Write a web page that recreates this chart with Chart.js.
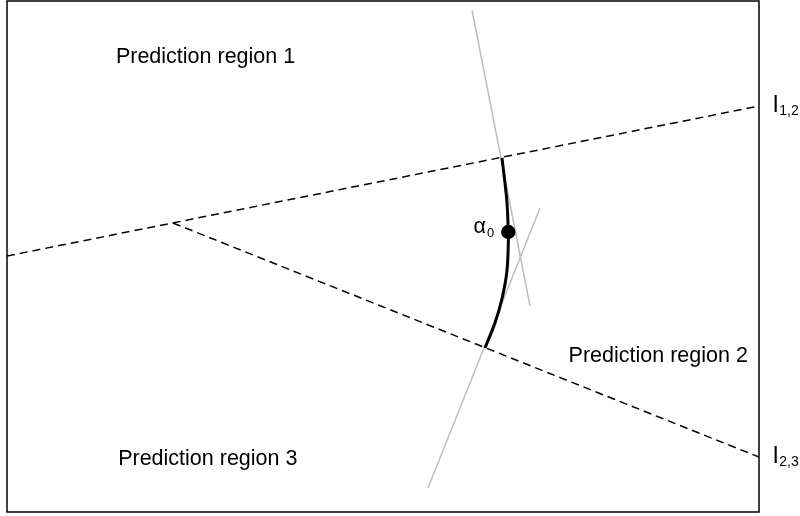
<!DOCTYPE html>
<html>
<head>
<meta charset="utf-8">
<script src="https://cdn.jsdelivr.net/npm/chart.js@4/dist/chart.umd.min.js"></script>
<style>
  html, body { margin: 0; padding: 0; background: #ffffff; }
  #wrap { width: 800px; height: 516px; }
</style>
</head>
<body>
<div id="wrap"><canvas id="c" width="800" height="516"></canvas></div>
<script>
// Boundary l_{1,2} (full line across the plot)
const boundary12X = [0, 100];
const boundary12Y = [50.10, 79.45];
// Boundary l_{2,3} (from the kink to the right edge)
const boundary23X = [22.07, 100];
const boundary23Y = [56.56, 10.76];
// Grey tangent lines
const tangentAX = [61.84, 69.55];
const tangentAY = [98.24, 40.31];
const tangentBX = [55.98, 70.88];
const tangentBY = [4.70, 59.49];
// Black curve (path)
const curveX = [65.82, 66.22, 66.49, 66.66, 66.66, 66.45, 65.78, 64.89, 63.56];
const curveY = [69.28, 64.38, 60.47, 54.79, 52.25, 46.77, 41.49, 36.99, 32.09];
// Point alpha_0
const alphaX = [66.66];
const alphaY = [54.79];
// Region labels
const regionLabels = ["Prediction region 1", "Prediction region 2", "Prediction region 3"];
const regionLabelX = [26.4, 86.6, 26.7];
const regionLabelY = [89.0, 30.5, 10.4];

const pts = (xs, ys) => xs.map((x, i) => ({ x: x, y: ys[i] }));

const FONT = "'Liberation Sans', Arial, Helvetica, sans-serif";

const overlay = {
  id: 'overlay',
  afterDatasetsDraw(chart) {
    const ctx = chart.ctx;
    const a = chart.chartArea;
    const sx = chart.scales.x, sy = chart.scales.y;
    ctx.save();
    // plot box
    ctx.strokeStyle = '#000000';
    ctx.lineWidth = 1.5;
    ctx.strokeRect(a.left, a.top, a.right - a.left, a.bottom - a.top);

    ctx.fillStyle = '#000000';
    ctx.textBaseline = 'middle';
    ctx.textAlign = 'center';
    ctx.font = '21.5px ' + FONT;
    regionLabels.forEach((t, i) => {
      ctx.fillText(t, sx.getPixelForValue(regionLabelX[i]), sy.getPixelForValue(regionLabelY[i]));
    });

    // alpha_0 label, left of the point
    const px = sx.getPixelForValue(alphaX[0]);
    const py = sy.getPixelForValue(alphaY[0]);
    ctx.textBaseline = 'alphabetic';
    ctx.textAlign = 'right';
    ctx.font = '13px ' + FONT;
    const subW = ctx.measureText('0').width;
    ctx.fillText('0', px - 14, py + 5);
    ctx.font = '21.5px ' + FONT;
    ctx.fillText('\u03B1', px - 14 - subW - 1, py + 1);

    // line labels at right of the box
    const lineLabel = (main, sub, yVal) => {
      const y = sy.getPixelForValue(yVal);
      const x0 = a.right + 14;
      ctx.textAlign = 'left';
      ctx.font = '24px ' + FONT;
      ctx.fillText(main, x0, y + 6);
      const w = ctx.measureText(main).width;
      ctx.font = '14px ' + FONT;
      ctx.fillText(sub, x0 + w + 1, y + 9);
    };
    lineLabel('l', '1,2', boundary12Y[1]);
    lineLabel('l', '2,3', boundary23Y[1]);
    ctx.restore();
  }
};

new Chart(document.getElementById('c'), {
  type: 'scatter',
  data: {
    datasets: [
      { data: pts(alphaX, alphaY), showLine: false, pointRadius: 7.2, pointBackgroundColor: '#000', pointBorderColor: '#000', pointBorderWidth: 0, order: 0 },
      { data: pts(curveX, curveY), showLine: true, borderColor: '#000', borderWidth: 3, tension: 0.4, pointRadius: 0, order: 1 },
      { data: pts(tangentAX, tangentAY), showLine: true, borderColor: '#bebebe', borderWidth: 1.5, pointRadius: 0, order: 2 },
      { data: pts(tangentBX, tangentBY), showLine: true, borderColor: '#bebebe', borderWidth: 1.5, pointRadius: 0, order: 3 },
      { data: pts(boundary12X, boundary12Y), showLine: true, borderColor: '#000', borderWidth: 1.5, borderDash: [8, 5], pointRadius: 0, order: 4 },
      { data: pts(boundary23X, boundary23Y), showLine: true, borderColor: '#000', borderWidth: 1.5, borderDash: [8, 5], pointRadius: 0, order: 5 }
    ]
  },
  options: {
    responsive: false,
    animation: false,
    events: [],
    layout: { autoPadding: false, padding: { left: 7, top: 1, right: 41, bottom: 4 } },
    scales: {
      x: { type: 'linear', min: 0, max: 100, display: false },
      y: { type: 'linear', min: 0, max: 100, display: false }
    },
    plugins: { legend: { display: false }, tooltip: { enabled: false } }
  },
  plugins: [overlay]
});
</script>
</body>
</html>
